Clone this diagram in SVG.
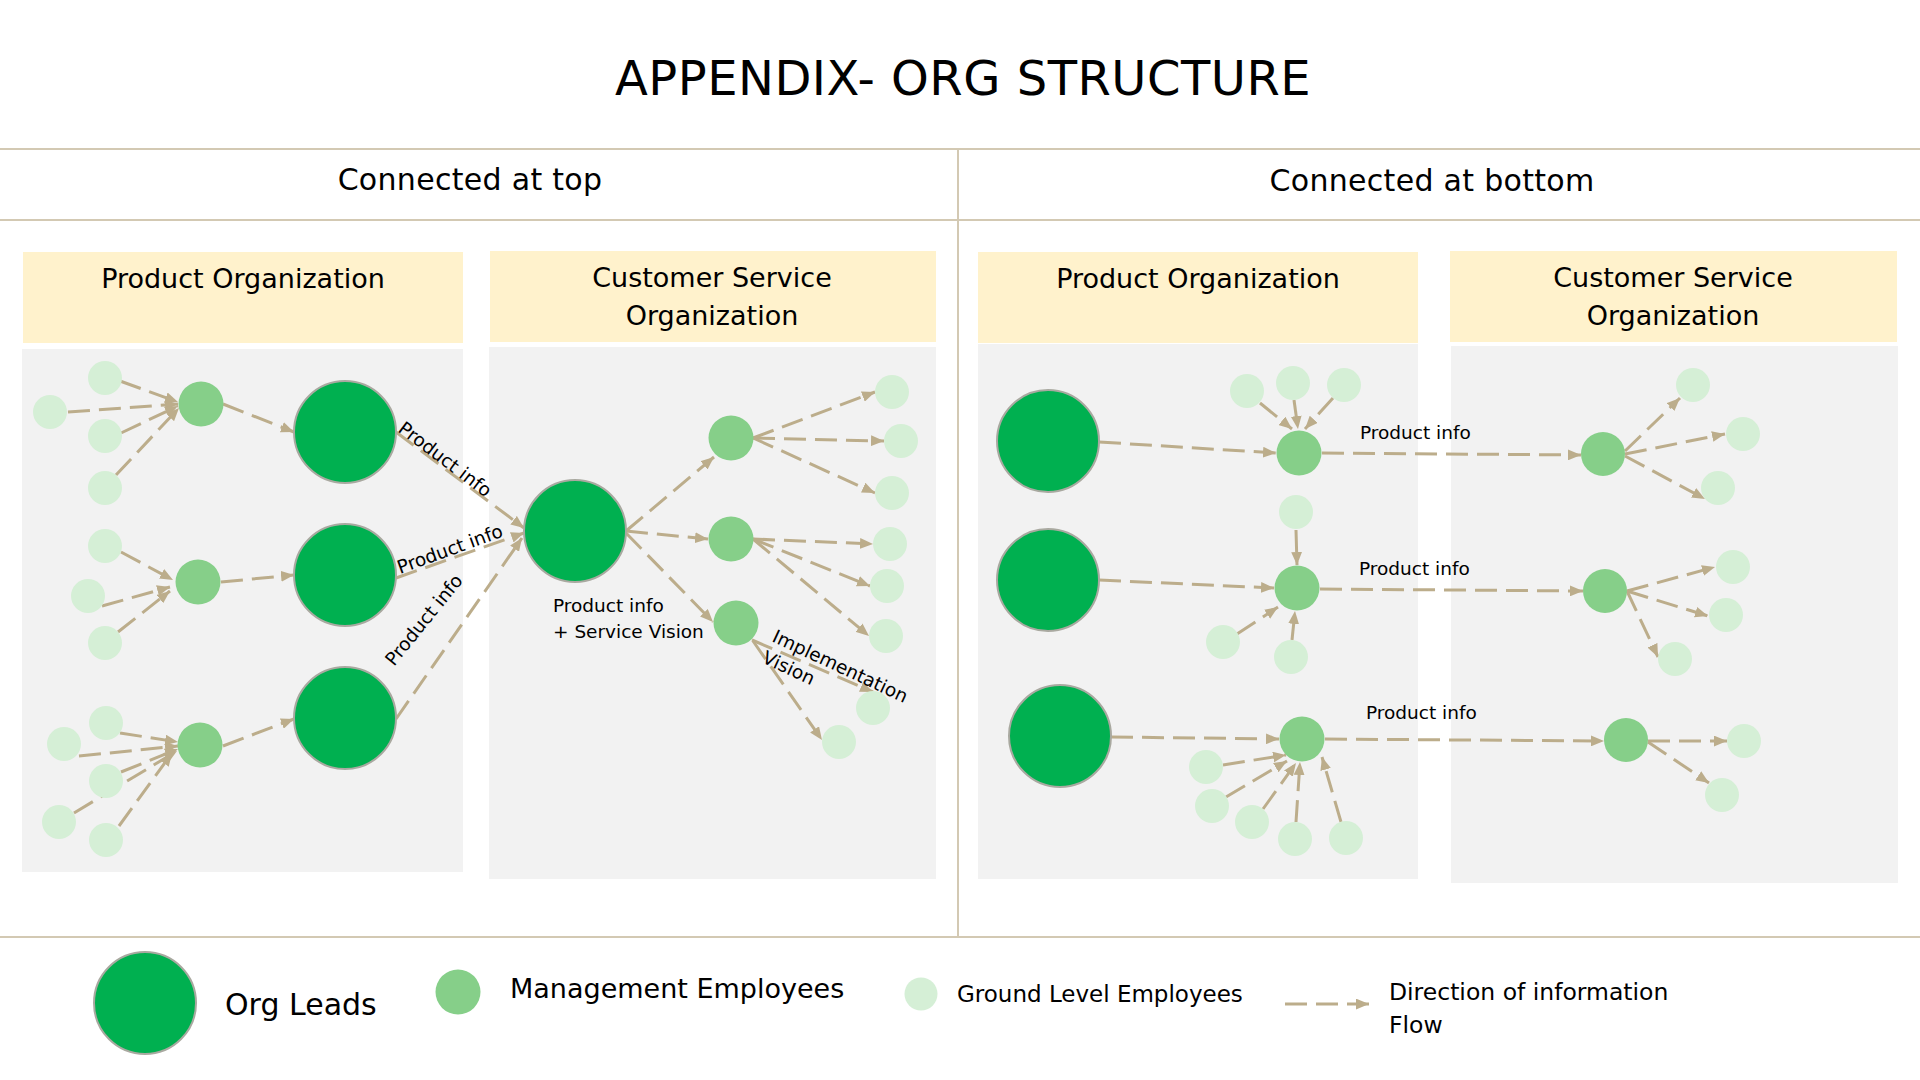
<svg xmlns="http://www.w3.org/2000/svg" width="1920" height="1080" viewBox="0 0 1920 1080">
<style>
text{font-family:"DejaVu Sans","Liberation Sans",sans-serif;fill:#000}
.panel{fill:#f2f2f2}
.hdr{fill:#fff2cc}
.rule{stroke:#d3c9b3;stroke-width:2;fill:none}
.lead{fill:#00b050;stroke:#a9a9a0;stroke-width:2}
.mgmt{fill:#86cf89}
.gnd{fill:#d5efd6}
.e{stroke:#bcad8b;stroke-width:3;stroke-dasharray:22 9;fill:none;marker-end:url(#ah)}
.h1{font-size:27px;text-anchor:middle}
.sec{font-size:30px;text-anchor:middle;letter-spacing:0.3px}
.lbl{font-size:18.5px}
</style>
<defs>
<marker id="ah" viewBox="0 0 12 10" refX="12" refY="5" markerWidth="13" markerHeight="11" markerUnits="userSpaceOnUse" orient="auto">
<path d="M0,0 L12,5 L0,10 z" fill="#bcad8b"/>
</marker>
</defs>
<rect width="1920" height="1080" fill="#fff"/>
<text x="963" y="95" font-size="48" text-anchor="middle" letter-spacing="0.5">APPENDIX- ORG STRUCTURE</text>
<g id="frame">
<line class="rule" x1="0" y1="149" x2="1920" y2="149"/>
<line class="rule" x1="0" y1="220" x2="1920" y2="220"/>
<line class="rule" x1="0" y1="937" x2="1920" y2="937"/>
<line class="rule" x1="958" y1="149" x2="958" y2="937"/>
<text class="sec" x="470" y="190">Connected at top</text>
<text class="sec" x="1432" y="191">Connected at bottom</text>
</g>
<g id="panels">
<rect class="hdr" x="23" y="252" width="440" height="91"/>
<rect class="panel" x="22" y="349" width="441" height="523"/>
<text class="h1" x="243" y="288">Product Organization</text>
<rect class="hdr" x="490" y="251" width="446" height="91"/>
<rect class="panel" x="489" y="347" width="447" height="532"/>
<text class="h1" x="712" y="287">Customer Service</text>
<text class="h1" x="712" y="325">Organization</text>
<rect class="hdr" x="978" y="252" width="440" height="91"/>
<rect class="panel" x="978" y="344" width="440" height="535"/>
<text class="h1" x="1198" y="288">Product Organization</text>
<rect class="hdr" x="1450" y="251" width="447" height="91"/>
<rect class="panel" x="1451" y="346" width="447" height="537"/>
<text class="h1" x="1673" y="287">Customer Service</text>
<text class="h1" x="1673" y="325">Organization</text>
</g>
<g id="connectors">
<path class="e" d="M120,381 L178,402"/>
<path class="e" d="M68,412 L178,404"/>
<path class="e" d="M121,433 L178,406"/>
<path class="e" d="M116,475 L179,408"/>
<path class="e" d="M223,404 L294,432"/>
<path class="e" d="M121,552 L173,580"/>
<path class="e" d="M102,606 L170,587"/>
<path class="e" d="M118,632 L170,591"/>
<path class="e" d="M221,582 L294,575"/>
<path class="e" d="M120,733 L178,742"/>
<path class="e" d="M79,756 L178,746"/>
<path class="e" d="M121,772 L178,749"/>
<path class="e" d="M74,813 L177,751"/>
<path class="e" d="M119,826 L172,753"/>
<path class="e" d="M223,746 L294,719"/>
<path class="e" d="M396,432 L524,528"/>
<path class="e" d="M396,578 L524,533"/>
<path class="e" d="M396,719 L522,538"/>
<path class="e" d="M626,531 L714,457"/>
<path class="e" d="M626,531 L708,539"/>
<path class="e" d="M626,533 L713,622"/>
<path class="e" d="M753,438 L875,392"/>
<path class="e" d="M753,438 L884,441"/>
<path class="e" d="M753,438 L875,493"/>
<path class="e" d="M753,539 L873,544"/>
<path class="e" d="M753,539 L870,586"/>
<path class="e" d="M753,539 L869,636"/>
<path class="e" d="M752,640 L873,692"/>
<path class="e" d="M753,641 L822,740"/>
<path class="e" d="M1099,442 L1276,453"/>
<path class="e" d="M1260,403 L1292,429"/>
<path class="e" d="M1294,400 L1298,429"/>
<path class="e" d="M1333,398 L1305,429"/>
<path class="e" d="M1099,580 L1274,588"/>
<path class="e" d="M1296,530 L1297,565"/>
<path class="e" d="M1237,634 L1278,607"/>
<path class="e" d="M1292,640 L1295,611"/>
<path class="e" d="M1111,737 L1279,739"/>
<path class="e" d="M1223,765 L1286,755"/>
<path class="e" d="M1226,797 L1287,761"/>
<path class="e" d="M1263,809 L1296,763"/>
<path class="e" d="M1296,822 L1300,762"/>
<path class="e" d="M1341,822 L1322,757"/>
<path class="e" d="M1322,453 L1581,455"/>
<path class="e" d="M1320,589 L1583,591"/>
<path class="e" d="M1325,739 L1604,741"/>
<path class="e" d="M1625,451 L1680,398"/>
<path class="e" d="M1625,454 L1725,434"/>
<path class="e" d="M1625,456 L1705,499"/>
<path class="e" d="M1627,591 L1715,567"/>
<path class="e" d="M1627,591 L1708,616"/>
<path class="e" d="M1627,591 L1658,657"/>
<path class="e" d="M1648,741 L1727,741"/>
<path class="e" d="M1648,742 L1709,783"/>
</g>
<g id="n-lp-g1"><circle class="gnd" cx="105" cy="378" r="17"/></g>
<g id="n-lp-g2"><circle class="gnd" cx="50" cy="412" r="17"/></g>
<g id="n-lp-g3"><circle class="gnd" cx="105" cy="436" r="17"/></g>
<g id="n-lp-g4"><circle class="gnd" cx="105" cy="488" r="17"/></g>
<g id="n-lp-m1"><circle class="mgmt" cx="201" cy="404" r="22.5"/></g>
<g id="n-lp-l1"><circle class="lead" cx="345" cy="432" r="51"/></g>
<g id="n-lp-g5"><circle class="gnd" cx="105" cy="546" r="17"/></g>
<g id="n-lp-g6"><circle class="gnd" cx="88" cy="596" r="17"/></g>
<g id="n-lp-g7"><circle class="gnd" cx="105" cy="643" r="17"/></g>
<g id="n-lp-m2"><circle class="mgmt" cx="198" cy="582" r="22.5"/></g>
<g id="n-lp-l2"><circle class="lead" cx="345" cy="575" r="51"/></g>
<g id="n-lp-g8"><circle class="gnd" cx="106" cy="723" r="17"/></g>
<g id="n-lp-g9"><circle class="gnd" cx="64" cy="744" r="17"/></g>
<g id="n-lp-g10"><circle class="gnd" cx="106" cy="781" r="17"/></g>
<g id="n-lp-g11"><circle class="gnd" cx="59" cy="822" r="17"/></g>
<g id="n-lp-g12"><circle class="gnd" cx="106" cy="840" r="17"/></g>
<g id="n-lp-m3"><circle class="mgmt" cx="200" cy="745" r="22.5"/></g>
<g id="n-lp-l3"><circle class="lead" cx="345" cy="718" r="51"/></g>
<g id="n-lc-l"><circle class="lead" cx="575" cy="531" r="51"/></g>
<g id="n-lc-m1"><circle class="mgmt" cx="731" cy="438" r="22.5"/></g>
<g id="n-lc-m2"><circle class="mgmt" cx="731" cy="539" r="22.5"/></g>
<g id="n-lc-m3"><circle class="mgmt" cx="736" cy="623" r="22.5"/></g>
<g id="n-lc-g1"><circle class="gnd" cx="892" cy="392" r="17"/></g>
<g id="n-lc-g2"><circle class="gnd" cx="901" cy="441" r="17"/></g>
<g id="n-lc-g3"><circle class="gnd" cx="892" cy="493" r="17"/></g>
<g id="n-lc-g4"><circle class="gnd" cx="890" cy="544" r="17"/></g>
<g id="n-lc-g5"><circle class="gnd" cx="887" cy="586" r="17"/></g>
<g id="n-lc-g6"><circle class="gnd" cx="886" cy="636" r="17"/></g>
<g id="n-lc-g7"><circle class="gnd" cx="873" cy="708" r="17"/></g>
<g id="n-lc-g8"><circle class="gnd" cx="839" cy="742" r="17"/></g>
<g id="n-rp-l1"><circle class="lead" cx="1048" cy="441" r="51"/></g>
<g id="n-rp-l2"><circle class="lead" cx="1048" cy="580" r="51"/></g>
<g id="n-rp-l3"><circle class="lead" cx="1060" cy="736" r="51"/></g>
<g id="n-rp-m1"><circle class="mgmt" cx="1299" cy="453" r="22.5"/></g>
<g id="n-rp-m2"><circle class="mgmt" cx="1297" cy="588" r="22.5"/></g>
<g id="n-rp-m3"><circle class="mgmt" cx="1302" cy="739" r="22.5"/></g>
<g id="n-rp-g1"><circle class="gnd" cx="1247" cy="391" r="17"/></g>
<g id="n-rp-g2"><circle class="gnd" cx="1293" cy="383" r="17"/></g>
<g id="n-rp-g3"><circle class="gnd" cx="1344" cy="385" r="17"/></g>
<g id="n-rp-g4"><circle class="gnd" cx="1296" cy="512" r="17"/></g>
<g id="n-rp-g5"><circle class="gnd" cx="1223" cy="642" r="17"/></g>
<g id="n-rp-g6"><circle class="gnd" cx="1291" cy="657" r="17"/></g>
<g id="n-rp-g7"><circle class="gnd" cx="1206" cy="767" r="17"/></g>
<g id="n-rp-g8"><circle class="gnd" cx="1212" cy="806" r="17"/></g>
<g id="n-rp-g9"><circle class="gnd" cx="1252" cy="822" r="17"/></g>
<g id="n-rp-g10"><circle class="gnd" cx="1295" cy="839" r="17"/></g>
<g id="n-rp-g11"><circle class="gnd" cx="1346" cy="838" r="17"/></g>
<g id="n-rc-m1"><circle class="mgmt" cx="1603" cy="454" r="22"/></g>
<g id="n-rc-m2"><circle class="mgmt" cx="1605" cy="591" r="22"/></g>
<g id="n-rc-m3"><circle class="mgmt" cx="1626" cy="740" r="22"/></g>
<g id="n-rc-g1"><circle class="gnd" cx="1693" cy="385" r="17"/></g>
<g id="n-rc-g2"><circle class="gnd" cx="1743" cy="434" r="17"/></g>
<g id="n-rc-g3"><circle class="gnd" cx="1718" cy="488" r="17"/></g>
<g id="n-rc-g4"><circle class="gnd" cx="1733" cy="567" r="17"/></g>
<g id="n-rc-g5"><circle class="gnd" cx="1726" cy="615" r="17"/></g>
<g id="n-rc-g6"><circle class="gnd" cx="1675" cy="659" r="17"/></g>
<g id="n-rc-g7"><circle class="gnd" cx="1744" cy="741" r="17"/></g>
<g id="n-rc-g8"><circle class="gnd" cx="1722" cy="795" r="17"/></g>
<g id="labels">
<text class="lbl" transform="translate(397,431) rotate(37)">Product info</text>
<text class="lbl" transform="translate(400,574) rotate(-20)">Product info</text>
<text class="lbl" transform="translate(394,667) rotate(-51)">Product info</text>
<text class="lbl" x="553" y="612">Product info</text>
<text class="lbl" x="553" y="638">+ Service Vision</text>
<text class="lbl" transform="translate(771,641) rotate(25)">Implementation</text>
<text class="lbl" transform="translate(761,662) rotate(25)">Vision</text>
<text class="lbl" x="1360" y="439">Product info</text>
<text class="lbl" x="1359" y="575">Product info</text>
<text class="lbl" x="1366" y="719">Product info</text>
</g>
<g id="legend">
<circle class="lead" cx="145" cy="1003" r="51"/>
<text x="225" y="1015" font-size="30">Org Leads</text>
<circle class="mgmt" cx="458" cy="992" r="22.5"/>
<text x="510" y="998" font-size="27">Management Employees</text>
<circle class="gnd" cx="921" cy="994" r="16.5"/>
<text x="957" y="1002" font-size="23">Ground Level Employees</text>
<path class="e" d="M1285,1004 L1369,1004"/>
<text x="1389" y="1000" font-size="23.5">Direction of information</text>
<text x="1389" y="1033" font-size="23.5">Flow</text>
</g>
</svg>
